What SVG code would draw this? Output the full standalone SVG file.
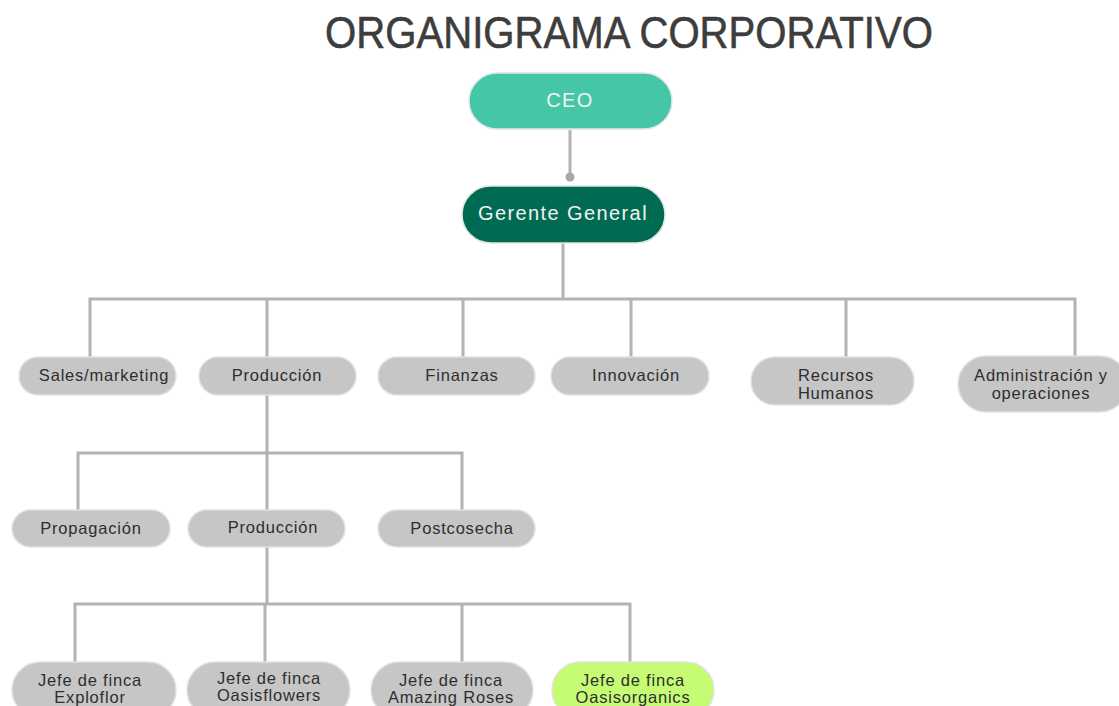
<svg xmlns="http://www.w3.org/2000/svg" width="1119" height="706" viewBox="0 0 1119 706">
<style>
.g{fill:#c6c6c6;stroke:#e2e2e2;stroke-width:1.5}
.t{font-family:"Liberation Sans",Arial,sans-serif;font-size:16.5px;fill:#2e2e2e;text-anchor:middle;letter-spacing:0.8px}
.w{font-family:"Liberation Sans",Arial,sans-serif;font-size:20px;fill:#f2f2f2;text-anchor:middle;letter-spacing:1.4px}
.c{fill:none;stroke:#b3b3b3;stroke-width:3}
</style>
<rect width="1119" height="706" fill="#ffffff"/>
<text x="629" y="48" font-family="Liberation Sans, Arial, sans-serif" font-size="45" fill="#3d3d3d" stroke="#3d3d3d" stroke-width="0.6" text-anchor="middle" textLength="608" lengthAdjust="spacingAndGlyphs">ORGANIGRAMA CORPORATIVO</text>
<g id="connectors">
<line class="c" x1="570" y1="130" x2="570" y2="176"/>
<circle cx="570" cy="177" r="4.5" fill="#a8a8a8"/>
<path class="c" d="M563 243V299M90 357V299H1075V357M267 299V357M463 299V357M631 299V357M846 299V357"/>
<path class="c" d="M267 395V453M78 510V453H462V510M267 453V510"/>
<path class="c" d="M267 546V604M75 662V604H630V662M265 604V662M462 604V662"/>
</g>
<g id="ceo"><rect x="469" y="73" width="203" height="56" rx="28" fill="#45c6a7" stroke="#e4e4e4" stroke-width="1.5"/><text class="w" x="570" y="107">CEO</text></g>
<g id="gerente"><rect x="462" y="186" width="203" height="57" rx="28.5" fill="#006b52" stroke="#e4e4e4" stroke-width="1.5"/><text class="w" x="563" y="220">Gerente General</text></g>
<g id="sales"><rect class="g" x="19" y="357" width="157" height="38" rx="19"/><text class="t" x="104" y="381">Sales/marketing</text></g>
<g id="produccion1"><rect class="g" x="199" y="357" width="157" height="38" rx="19"/><text class="t" x="277" y="381">Producción</text></g>
<g id="finanzas"><rect class="g" x="378" y="357" width="157" height="38" rx="19"/><text class="t" x="462" y="381">Finanzas</text></g>
<g id="innovacion"><rect class="g" x="551" y="357" width="158" height="38" rx="19"/><text class="t" x="636" y="381">Innovación</text></g>
<g id="rrhh"><rect class="g" x="751" y="357" width="163" height="48" rx="24"/><text class="t" x="836" y="381">Recursos</text><text class="t" x="836" y="399">Humanos</text></g>
<g id="admin"><rect class="g" x="958" y="356" width="170" height="56" rx="28"/><text class="t" x="1041" y="381">Administración y</text><text class="t" x="1041" y="399">operaciones</text></g>
<g id="propagacion"><rect class="g" x="12" y="510" width="158" height="37" rx="18.5"/><text class="t" x="91" y="534">Propagación</text></g>
<g id="produccion2"><rect class="g" x="188" y="510" width="157" height="37" rx="18.5"/><text class="t" x="273" y="533">Producción</text></g>
<g id="postcosecha"><rect class="g" x="378" y="510" width="157" height="37" rx="18.5"/><text class="t" x="462" y="534">Postcosecha</text></g>
<g id="exploflor"><rect class="g" x="12" y="662" width="164" height="56" rx="28"/><text class="t" x="90" y="686">Jefe de finca</text><text class="t" x="90" y="703">Exploflor</text></g>
<g id="oasisflowers"><rect class="g" x="187" y="662" width="163" height="56" rx="28"/><text class="t" x="269" y="684">Jefe de finca</text><text class="t" x="269" y="701">Oasisflowers</text></g>
<g id="amazing"><rect class="g" x="371" y="662" width="162" height="56" rx="28"/><text class="t" x="451" y="686">Jefe de finca</text><text class="t" x="451" y="703">Amazing Roses</text></g>
<g id="oasisorganics"><rect x="552" y="662" width="162" height="56" rx="28" fill="#c6fb74" stroke="#e2e2e2" stroke-width="1.5"/><text class="t" x="633" y="686">Jefe de finca</text><text class="t" x="633" y="703">Oasisorganics</text></g>
</svg>
